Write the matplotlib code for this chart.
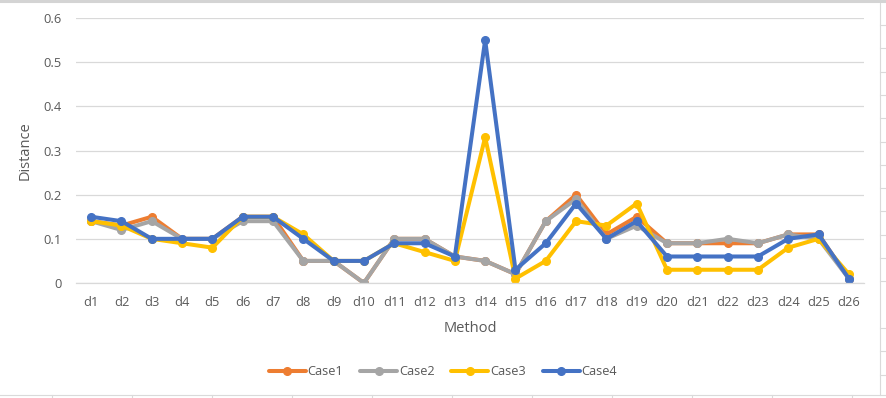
import matplotlib
matplotlib.use("Agg")
import matplotlib.pyplot as plt
from matplotlib.lines import Line2D

plt.rcParams['font.family'] = ['Open Sans', 'DejaVu Sans']

categories = [f"d{i}" for i in range(1, 27)]
case1 = [0.14, 0.13, 0.15, 0.10, 0.10, 0.15, 0.15, 0.05, 0.05, 0.00, 0.10, 0.10, 0.06,
         0.05, 0.02, 0.14, 0.20, 0.11, 0.15, 0.09, 0.09, 0.09, 0.09, 0.11, 0.11, 0.01]
case2 = [0.14, 0.12, 0.14, 0.10, 0.10, 0.14, 0.14, 0.05, 0.05, 0.00, 0.10, 0.10, 0.06,
         0.05, 0.02, 0.14, 0.19, 0.10, 0.13, 0.09, 0.09, 0.10, 0.09, 0.11, 0.10, 0.01]
case3 = [0.14, 0.13, 0.10, 0.09, 0.08, 0.15, 0.15, 0.11, 0.05, 0.05, 0.09, 0.07, 0.05,
         0.33, 0.01, 0.05, 0.14, 0.13, 0.18, 0.03, 0.03, 0.03, 0.03, 0.08, 0.10, 0.02]
case4 = [0.15, 0.14, 0.10, 0.10, 0.10, 0.15, 0.15, 0.10, 0.05, 0.05, 0.09, 0.09, 0.06,
         0.55, 0.03, 0.09, 0.18, 0.10, 0.14, 0.06, 0.06, 0.06, 0.06, 0.10, 0.11, 0.01]
series_names = ["Case1", "Case2", "Case3", "Case4"]
series_colors = ["#ED7D31", "#A5A5A5", "#FFC000", "#4472C4"]
y_ticks = [0, 0.1, 0.2, 0.3, 0.4, 0.5, 0.6]
y_tick_labels = ["0", "0.1", "0.2", "0.3", "0.4", "0.5", "0.6"]

W, H = 887, 398
fig = plt.figure(figsize=(W / 100, H / 100), dpi=100)
fig.patch.set_facecolor("white")

# Excel-like surrounding artifacts
fig.add_artist(Line2D([0, 1], [1 - 1.2 / H, 1 - 1.2 / H], transform=fig.transFigure,
                      color="#D4D4D4", lw=2.2))
fig.add_artist(Line2D([880 / W, 880 / W], [3 / H, 1 - 3 / H], transform=fig.transFigure,
                      color="#DADADA", lw=0.8))
fig.add_artist(Line2D([0, 1], [1 - 395 / H, 1 - 395 / H], transform=fig.transFigure,
                      color="#DADADA", lw=0.8))
for xk in range(52, 887, 80):
    fig.add_artist(Line2D([xk / W, xk / W], [0, 1 - 395 / H], transform=fig.transFigure,
                          color="#DADADA", lw=0.8))
yk = 25.0
while yk < 395:
    if abs(yk - 302) > 8:
        fig.add_artist(Line2D([880 / W, 1], [1 - yk / H, 1 - yk / H], transform=fig.transFigure,
                              color="#DADADA", lw=0.8))
    yk += 23.3

left, right, top, bottom = 76, 864, 18, 283
ax = fig.add_axes([left / W, 1 - bottom / H, (right - left) / W, (bottom - top) / H])
x = list(range(len(categories)))
for vals, name, col in zip([case1, case2, case3, case4], series_names, series_colors):
    ax.plot(x, vals, color=col, lw=2.9, marker="o", markersize=5.5, label=name,
            solid_joinstyle="round", solid_capstyle="round")

ax.set_xlim(-0.5, len(categories) - 0.5)
ax.set_ylim(0, 0.6)
ax.set_yticks(y_ticks)
ax.set_yticklabels(y_tick_labels)
ax.set_xticks(x)
ax.set_xticklabels(categories)
ax.tick_params(axis="both", length=0, colors="#595959", labelsize=9.3)
ax.tick_params(axis="x", pad=9)
ax.tick_params(axis="y", pad=10)
ax.grid(axis="y", color="#D9D9D9", lw=0.9)
ax.set_axisbelow(True)
for s in ["top", "right", "left"]:
    ax.spines[s].set_visible(False)
ax.spines["bottom"].set_color("#D9D9D9")
ax.spines["bottom"].set_linewidth(0.9)

ax.set_xlabel("Method", fontsize=10.5, color="#595959", labelpad=9)
ax.set_ylabel("Distance", fontsize=10.5, color="#595959", labelpad=8)

handles, labels = ax.get_legend_handles_labels()
leg = fig.legend(handles, labels, loc="center", bbox_to_anchor=(443 / W, 1 - 371.5 / H),
                 ncol=4, frameon=False, fontsize=9.2, handlelength=2.9, handletextpad=0.15,
                 columnspacing=1.3, labelcolor="#595959")

fig.savefig("out.png", dpi=100, facecolor="white")
